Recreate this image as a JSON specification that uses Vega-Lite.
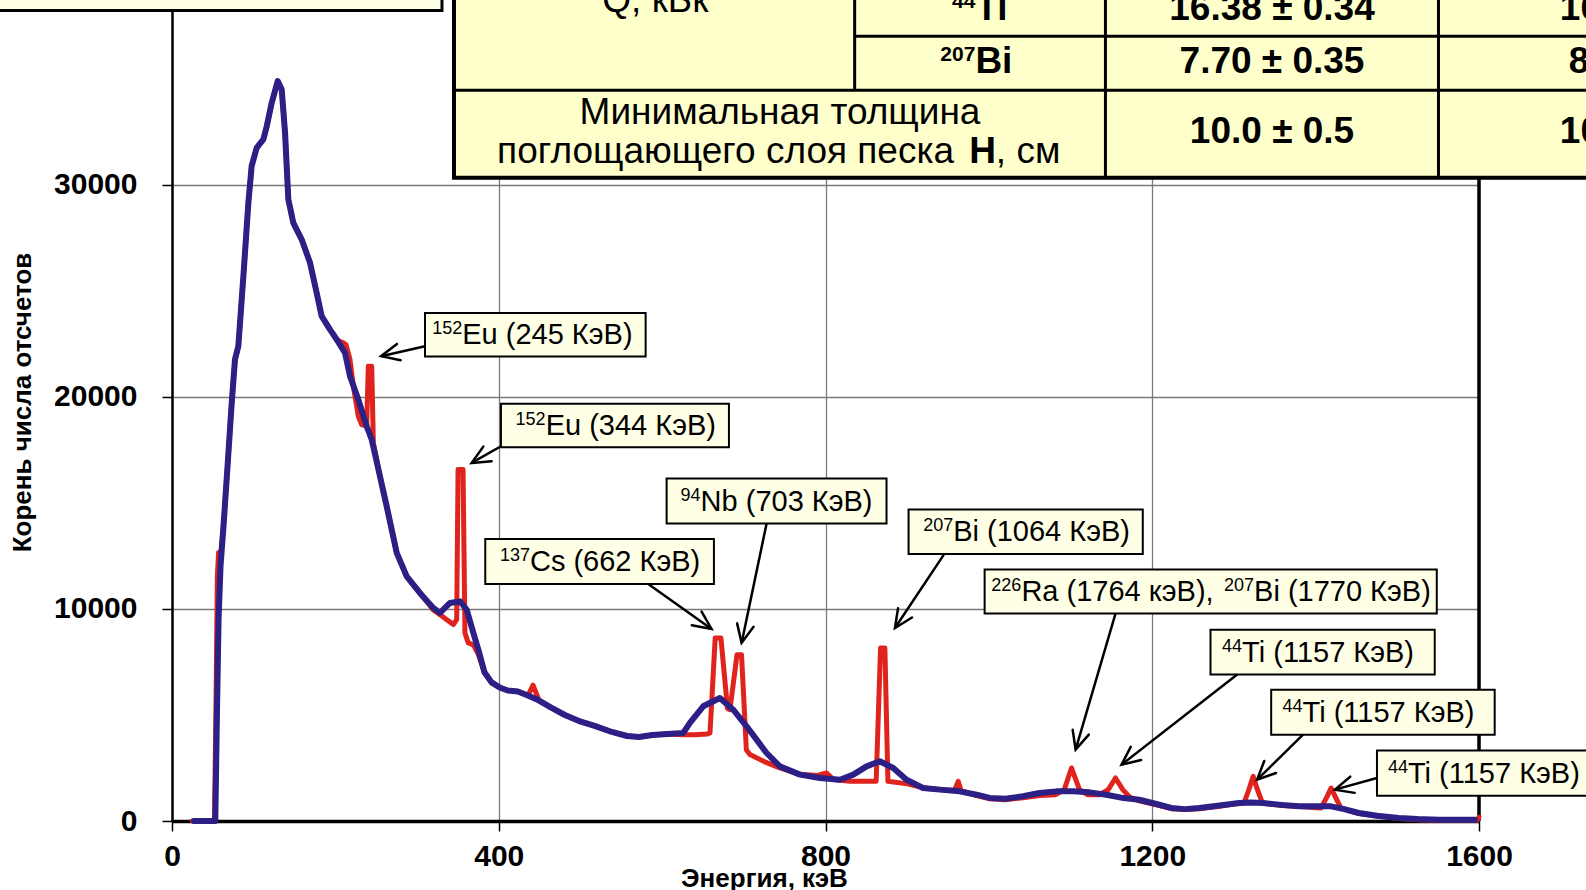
{
  "$schema": "https://vega.github.io/schema/vega-lite/v6.json",
  "width": 1307,
  "height": 821,
  "autosize": {"type": "none"},
  "padding": {"left": 172, "top": 0, "right": 107, "bottom": 69},
  "background": "white",
  "config": {
    "view": {"stroke": null},
    "font": "Liberation Sans",
    "axis": {"labelFont": "Liberation Sans", "titleFont": "Liberation Sans"}
  },
  "datasets": {
    "spectrum": [
      {"detector": "HPGe", "E": 25, "C": 0}, {"detector": "HPGe", "E": 52, "C": 0}, {"detector": "HPGe", "E": 54, "C": 6000},
      {"detector": "HPGe", "E": 55.5, "C": 11500}, {"detector": "HPGe", "E": 57, "C": 12650}, {"detector": "HPGe", "E": 60, "C": 12700},
      {"detector": "HPGe", "E": 63.1, "C": 13927}, {"detector": "HPGe", "E": 68.1, "C": 16788}, {"detector": "HPGe", "E": 73.0, "C": 19650},
      {"detector": "HPGe", "E": 77.1, "C": 21753}, {"detector": "HPGe", "E": 81.2, "C": 22378}, {"detector": "HPGe", "E": 87.4, "C": 25683},
      {"detector": "HPGe", "E": 93.5, "C": 29141}, {"detector": "HPGe", "E": 97.5, "C": 30868}, {"detector": "HPGe", "E": 103.7, "C": 31735},
      {"detector": "HPGe", "E": 111.8, "C": 32126}, {"detector": "HPGe", "E": 116.0, "C": 32752}, {"detector": "HPGe", "E": 122.1, "C": 33858},
      {"detector": "HPGe", "E": 129.4, "C": 34874}, {"detector": "HPGe", "E": 134.3, "C": 34482}, {"detector": "HPGe", "E": 138.4, "C": 32442},
      {"detector": "HPGe", "E": 142.4, "C": 29298}, {"detector": "HPGe", "E": 148.5, "C": 28197}, {"detector": "HPGe", "E": 158.8, "C": 27409},
      {"detector": "HPGe", "E": 169.0, "C": 26313}, {"detector": "HPGe", "E": 177.1, "C": 24896}, {"detector": "HPGe", "E": 183.2, "C": 23795},
      {"detector": "HPGe", "E": 193.5, "C": 23165}, {"detector": "HPGe", "E": 201.6, "C": 22698}, {"detector": "HPGe", "E": 206, "C": 22600},
      {"detector": "HPGe", "E": 209.7, "C": 22540}, {"detector": "HPGe", "E": 213, "C": 22450}, {"detector": "HPGe", "E": 217.9, "C": 21753},
      {"detector": "HPGe", "E": 222, "C": 20494}, {"detector": "HPGe", "E": 228.1, "C": 19078}, {"detector": "HPGe", "E": 232.2, "C": 18686},
      {"detector": "HPGe", "E": 238.3, "C": 18610}, {"detector": "HPGe", "E": 240.3, "C": 21438}, {"detector": "HPGe", "E": 244.5, "C": 21438},
      {"detector": "HPGe", "E": 246.5, "C": 17823}, {"detector": "HPGe", "E": 254.6, "C": 16249}, {"detector": "HPGe", "E": 262.8, "C": 14837},
      {"detector": "HPGe", "E": 275.1, "C": 12639}, {"detector": "HPGe", "E": 287.3, "C": 11532}, {"detector": "HPGe", "E": 303.5, "C": 10750},
      {"detector": "HPGe", "E": 319.9, "C": 9950}, {"detector": "HPGe", "E": 328.0, "C": 9730}, {"detector": "HPGe", "E": 336.0, "C": 9500},
      {"detector": "HPGe", "E": 344.4, "C": 9257}, {"detector": "HPGe", "E": 348.5, "C": 9491}, {"detector": "HPGe", "E": 350.2, "C": 16564},
      {"detector": "HPGe", "E": 356.3, "C": 16564}, {"detector": "HPGe", "E": 358.6, "C": 8866}, {"detector": "HPGe", "E": 362.7, "C": 8394},
      {"detector": "HPGe", "E": 368.9, "C": 8300}, {"detector": "HPGe", "E": 375.0, "C": 7850}, {"detector": "HPGe", "E": 382.5, "C": 7011},
      {"detector": "HPGe", "E": 391.2, "C": 6534}, {"detector": "HPGe", "E": 401.1, "C": 6296}, {"detector": "HPGe", "E": 411.0, "C": 6153},
      {"detector": "HPGe", "E": 423.4, "C": 6105}, {"detector": "HPGe", "E": 435.7, "C": 5914}, {"detector": "HPGe", "E": 442.0, "C": 6400},
      {"detector": "HPGe", "E": 449.4, "C": 5676}, {"detector": "HPGe", "E": 464.2, "C": 5342}, {"detector": "HPGe", "E": 480.3, "C": 5008},
      {"detector": "HPGe", "E": 497.6, "C": 4722}, {"detector": "HPGe", "E": 517.4, "C": 4483}, {"detector": "HPGe", "E": 538.5, "C": 4197},
      {"detector": "HPGe", "E": 557.1, "C": 4006}, {"detector": "HPGe", "E": 571.9, "C": 3959}, {"detector": "HPGe", "E": 588.0, "C": 4054},
      {"detector": "HPGe", "E": 606.6, "C": 4102}, {"detector": "HPGe", "E": 625.8, "C": 4068}, {"detector": "HPGe", "E": 640.0, "C": 4068},
      {"detector": "HPGe", "E": 655.0, "C": 4100}, {"detector": "HPGe", "E": 658.6, "C": 4149}, {"detector": "HPGe", "E": 665.0, "C": 8628},
      {"detector": "HPGe", "E": 672.0, "C": 8628}, {"detector": "HPGe", "E": 680.0, "C": 5300}, {"detector": "HPGe", "E": 683.0, "C": 5246},
      {"detector": "HPGe", "E": 691.7, "C": 7841}, {"detector": "HPGe", "E": 697.2, "C": 7841}, {"detector": "HPGe", "E": 703.1, "C": 3362},
      {"detector": "HPGe", "E": 707.5, "C": 3129}, {"detector": "HPGe", "E": 725.0, "C": 2800}, {"detector": "HPGe", "E": 744.1, "C": 2500},
      {"detector": "HPGe", "E": 768.7, "C": 2200}, {"detector": "HPGe", "E": 790.0, "C": 2150}, {"detector": "HPGe", "E": 801.3, "C": 2265},
      {"detector": "HPGe", "E": 810.0, "C": 1950}, {"detector": "HPGe", "E": 830.0, "C": 1870}, {"detector": "HPGe", "E": 862.0, "C": 1870},
      {"detector": "HPGe", "E": 867.4, "C": 8155}, {"detector": "HPGe", "E": 872.7, "C": 8155}, {"detector": "HPGe", "E": 876.4, "C": 1870},
      {"detector": "HPGe", "E": 900.0, "C": 1750}, {"detector": "HPGe", "E": 920.0, "C": 1560}, {"detector": "HPGe", "E": 950.0, "C": 1450},
      {"detector": "HPGe", "E": 958.0, "C": 1450}, {"detector": "HPGe", "E": 962.4, "C": 1870}, {"detector": "HPGe", "E": 966.0, "C": 1430},
      {"detector": "HPGe", "E": 985.0, "C": 1200}, {"detector": "HPGe", "E": 1001.0, "C": 1050}, {"detector": "HPGe", "E": 1020.0, "C": 1000},
      {"detector": "HPGe", "E": 1041.8, "C": 1100}, {"detector": "HPGe", "E": 1062.0, "C": 1200}, {"detector": "HPGe", "E": 1081.7, "C": 1240},
      {"detector": "HPGe", "E": 1092.3, "C": 1479}, {"detector": "HPGe", "E": 1101.2, "C": 2499}, {"detector": "HPGe", "E": 1110.9, "C": 1479},
      {"detector": "HPGe", "E": 1120.7, "C": 1240}, {"detector": "HPGe", "E": 1135.3, "C": 1240}, {"detector": "HPGe", "E": 1146.2, "C": 1479},
      {"detector": "HPGe", "E": 1155.0, "C": 2027}, {"detector": "HPGe", "E": 1163.9, "C": 1479}, {"detector": "HPGe", "E": 1172.2, "C": 1131},
      {"detector": "HPGe", "E": 1184.1, "C": 950}, {"detector": "HPGe", "E": 1205.0, "C": 760}, {"detector": "HPGe", "E": 1223.2, "C": 580},
      {"detector": "HPGe", "E": 1240.0, "C": 540}, {"detector": "HPGe", "E": 1257.4, "C": 580}, {"detector": "HPGe", "E": 1280.0, "C": 680},
      {"detector": "HPGe", "E": 1300.0, "C": 800}, {"detector": "HPGe", "E": 1312.3, "C": 849}, {"detector": "HPGe", "E": 1318.0, "C": 1450},
      {"detector": "HPGe", "E": 1323.6, "C": 2103}, {"detector": "HPGe", "E": 1329.0, "C": 1450}, {"detector": "HPGe", "E": 1334.8, "C": 849},
      {"detector": "HPGe", "E": 1358.0, "C": 730}, {"detector": "HPGe", "E": 1380.0, "C": 680}, {"detector": "HPGe", "E": 1406.5, "C": 610},
      {"detector": "HPGe", "E": 1414.0, "C": 1150}, {"detector": "HPGe", "E": 1418.9, "C": 1555}, {"detector": "HPGe", "E": 1424.0, "C": 1150},
      {"detector": "HPGe", "E": 1431.0, "C": 610}, {"detector": "HPGe", "E": 1452.9, "C": 350}, {"detector": "HPGe", "E": 1475.0, "C": 230},
      {"detector": "HPGe", "E": 1501.7, "C": 120}, {"detector": "HPGe", "E": 1525.0, "C": 60}, {"detector": "HPGe", "E": 1550.5, "C": 30},
      {"detector": "HPGe", "E": 1597.0, "C": 30}, {"detector": "HPGe", "E": 1600.0, "C": 180},

      {"detector": "NaI", "E": 27, "C": 0}, {"detector": "NaI", "E": 53, "C": 0}, {"detector": "NaI", "E": 55, "C": 5000},
      {"detector": "NaI", "E": 57, "C": 9500}, {"detector": "NaI", "E": 59.4, "C": 12019}, {"detector": "NaI", "E": 63.1, "C": 13927},
      {"detector": "NaI", "E": 68.1, "C": 16788}, {"detector": "NaI", "E": 73.0, "C": 19650}, {"detector": "NaI", "E": 77.1, "C": 21753},
      {"detector": "NaI", "E": 81.2, "C": 22378}, {"detector": "NaI", "E": 87.4, "C": 25683}, {"detector": "NaI", "E": 93.5, "C": 29141},
      {"detector": "NaI", "E": 97.5, "C": 30868}, {"detector": "NaI", "E": 103.7, "C": 31735}, {"detector": "NaI", "E": 111.8, "C": 32126},
      {"detector": "NaI", "E": 116.0, "C": 32752}, {"detector": "NaI", "E": 122.1, "C": 33858}, {"detector": "NaI", "E": 129.4, "C": 34874},
      {"detector": "NaI", "E": 134.3, "C": 34482}, {"detector": "NaI", "E": 138.4, "C": 32442}, {"detector": "NaI", "E": 142.4, "C": 29298},
      {"detector": "NaI", "E": 148.5, "C": 28197}, {"detector": "NaI", "E": 158.8, "C": 27409}, {"detector": "NaI", "E": 169.0, "C": 26313},
      {"detector": "NaI", "E": 177.1, "C": 24896}, {"detector": "NaI", "E": 183.2, "C": 23795}, {"detector": "NaI", "E": 193.5, "C": 23165},
      {"detector": "NaI", "E": 201.6, "C": 22698}, {"detector": "NaI", "E": 211.8, "C": 22068}, {"detector": "NaI", "E": 217.9, "C": 20966},
      {"detector": "NaI", "E": 228.1, "C": 19865}, {"detector": "NaI", "E": 238.3, "C": 18610}, {"detector": "NaI", "E": 244.5, "C": 17981},
      {"detector": "NaI", "E": 254.6, "C": 16249}, {"detector": "NaI", "E": 262.8, "C": 14837}, {"detector": "NaI", "E": 275.1, "C": 12639},
      {"detector": "NaI", "E": 287.3, "C": 11532}, {"detector": "NaI", "E": 303.5, "C": 10750}, {"detector": "NaI", "E": 319.9, "C": 10044},
      {"detector": "NaI", "E": 328.0, "C": 9811}, {"detector": "NaI", "E": 340.3, "C": 10278}, {"detector": "NaI", "E": 352.5, "C": 10354},
      {"detector": "NaI", "E": 360.7, "C": 9968}, {"detector": "NaI", "E": 368.9, "C": 8871}, {"detector": "NaI", "E": 375.0, "C": 8079},
      {"detector": "NaI", "E": 382.5, "C": 7011}, {"detector": "NaI", "E": 391.2, "C": 6534}, {"detector": "NaI", "E": 401.1, "C": 6296},
      {"detector": "NaI", "E": 411.0, "C": 6153}, {"detector": "NaI", "E": 423.4, "C": 6105}, {"detector": "NaI", "E": 435.7, "C": 5914},
      {"detector": "NaI", "E": 449.4, "C": 5676}, {"detector": "NaI", "E": 464.2, "C": 5342}, {"detector": "NaI", "E": 480.3, "C": 5008},
      {"detector": "NaI", "E": 497.6, "C": 4722}, {"detector": "NaI", "E": 517.4, "C": 4483}, {"detector": "NaI", "E": 538.5, "C": 4197},
      {"detector": "NaI", "E": 557.1, "C": 4006}, {"detector": "NaI", "E": 571.9, "C": 3959}, {"detector": "NaI", "E": 588.0, "C": 4054},
      {"detector": "NaI", "E": 606.6, "C": 4102}, {"detector": "NaI", "E": 625.8, "C": 4149}, {"detector": "NaI", "E": 634.0, "C": 4622},
      {"detector": "NaI", "E": 650.3, "C": 5408}, {"detector": "NaI", "E": 670.7, "C": 5800}, {"detector": "NaI", "E": 687.0, "C": 5246},
      {"detector": "NaI", "E": 703.4, "C": 4464}, {"detector": "NaI", "E": 715.6, "C": 3835}, {"detector": "NaI", "E": 727.9, "C": 3205},
      {"detector": "NaI", "E": 744.1, "C": 2575}, {"detector": "NaI", "E": 768.7, "C": 2185}, {"detector": "NaI", "E": 793.1, "C": 2027},
      {"detector": "NaI", "E": 817.6, "C": 1946}, {"detector": "NaI", "E": 834.0, "C": 2185}, {"detector": "NaI", "E": 850.3, "C": 2575},
      {"detector": "NaI", "E": 866.5, "C": 2814}, {"detector": "NaI", "E": 882.9, "C": 2499}, {"detector": "NaI", "E": 899.2, "C": 1946},
      {"detector": "NaI", "E": 919.5, "C": 1555}, {"detector": "NaI", "E": 939.8, "C": 1479}, {"detector": "NaI", "E": 964.3, "C": 1397},
      {"detector": "NaI", "E": 985.0, "C": 1240}, {"detector": "NaI", "E": 1001.0, "C": 1087}, {"detector": "NaI", "E": 1020.0, "C": 1050},
      {"detector": "NaI", "E": 1041.8, "C": 1164}, {"detector": "NaI", "E": 1062.0, "C": 1321}, {"detector": "NaI", "E": 1082.7, "C": 1397},
      {"detector": "NaI", "E": 1103.1, "C": 1397}, {"detector": "NaI", "E": 1123.0, "C": 1350}, {"detector": "NaI", "E": 1143.9, "C": 1240},
      {"detector": "NaI", "E": 1165.0, "C": 1080}, {"detector": "NaI", "E": 1184.1, "C": 1002}, {"detector": "NaI", "E": 1205.0, "C": 800},
      {"detector": "NaI", "E": 1223.2, "C": 615}, {"detector": "NaI", "E": 1240.0, "C": 560}, {"detector": "NaI", "E": 1257.4, "C": 615},
      {"detector": "NaI", "E": 1280.0, "C": 720}, {"detector": "NaI", "E": 1306.3, "C": 849}, {"detector": "NaI", "E": 1320.0, "C": 870},
      {"detector": "NaI", "E": 1335.6, "C": 849}, {"detector": "NaI", "E": 1358.0, "C": 760}, {"detector": "NaI", "E": 1379.6, "C": 692},
      {"detector": "NaI", "E": 1400.0, "C": 700}, {"detector": "NaI", "E": 1418.7, "C": 692}, {"detector": "NaI", "E": 1435.0, "C": 560},
      {"detector": "NaI", "E": 1452.9, "C": 377}, {"detector": "NaI", "E": 1475.0, "C": 250}, {"detector": "NaI", "E": 1501.7, "C": 143},
      {"detector": "NaI", "E": 1525.0, "C": 90}, {"detector": "NaI", "E": 1550.5, "C": 62}, {"detector": "NaI", "E": 1594.8, "C": 62}
    ],
    "plotEdge": [{"E": 1600, "C": 0, "C2": 38700}],
    "calloutBoxes": [
      {"E": 309.7, "E2": 579.8, "C": 21892, "C2": 23942},
      {"E": 402.7, "E2": 681.8, "C": 17623, "C2": 19674},
      {"E": 605.5, "E2": 874.7, "C": 14022, "C2": 16140},
      {"E": 383.5, "E2": 663.4, "C": 11175, "C2": 13297},
      {"E": 901.7, "E2": 1188.4, "C": 12591, "C2": 14680},
      {"E": 994.8, "E2": 1548.3, "C": 9777, "C2": 11852},
      {"E": 1271.3, "E2": 1545.8, "C": 6901, "C2": 9014},
      {"E": 1345.6, "E2": 1619.2, "C": 4068, "C2": 6191},
      {"E": 1475.1, "E2": 1735.0, "C": 1192, "C2": 3329}
    ],
    "pointers": [
      {"E": 255.9, "C": 21911, "E2": 309.7, "C2": 22383},
      {"E": 366.8, "C": 16879, "E2": 402.7, "C2": 17666},
      {"E": 697.3, "C": 8394, "E2": 727.9, "C2": 14022},
      {"E": 660.5, "C": 9052, "E2": 583.0, "C2": 11175},
      {"E": 885.0, "C": 9100, "E2": 944.9, "C2": 12558},
      {"E": 1106.2, "C": 3362, "E2": 1155.0, "C2": 9777},
      {"E": 1162.4, "C": 2657, "E2": 1304.0, "C2": 6901},
      {"E": 1328.4, "C": 1946, "E2": 1384.6, "C2": 4068},
      {"E": 1423.6, "C": 1479, "E2": 1475.0, "C2": 2027}
    ],
    "calloutText": [
      {"E": 355.3, "C": 22469, "sup": "152", "t": "Eu (245 КэВ)"},
      {"E": 457.4, "C": 18200, "sup": "152", "t": "Eu (344 КэВ)"},
      {"E": 647.1, "C": 14633, "sup": "94", "t": "Nb (703 КэВ)"},
      {"E": 438.2, "C": 11785, "sup": "137", "t": "Cs (662 КэВ)"},
      {"E": 956.3, "C": 13188, "sup": "207", "t": "Bi (1064 КэВ)"},
      {"E": 1039.8, "C": 10364, "sup": "226", "t": "Ra (1764 кэВ),"},
      {"E": 1324.6, "C": 10364, "sup": "207", "t": "Bi (1770 КэВ)"},
      {"E": 1310.0, "C": 7507, "sup": "44", "t": "Ti (1157 КэВ)"},
      {"E": 1384.0, "C": 4679, "sup": "44", "t": "Ti (1157 КэВ)"},
      {"E": 1513.0, "C": 1812, "sup": "44", "t": "Ti (1157 КэВ)"}
    ],
    "tableBody": [{"E": 345.2, "E2": 2300, "C": 30320, "C2": 45000}],
    "tableRules": [
      {"E": 835.7, "E2": 2300, "C": 36997, "C2": 36997},
      {"E": 345.2, "E2": 2300, "C": 34451, "C2": 34451},
      {"E": 835.7, "E2": 835.7, "C": 34451, "C2": 45000},
      {"E": 1142.7, "E2": 1142.7, "C": 30320, "C2": 45000},
      {"E": 1550.4, "E2": 1550.4, "C": 30320, "C2": 45000}
    ],
    "tableRegularCentered": [
      {"E": 591.7, "C": 38129, "t": "Q, кБк"},
      {"E": 744.3, "C": 32834, "t": "Минимальная толщина"}
    ],
    "tableRegularLeft": [
      {"E": 398.0, "C": 31028, "t": "поглощающего слоя песка"},
      {"E": 1008.5, "C": 31028, "t": ", см"}
    ],
    "tableBoldLeft": [
      {"E": 976.0, "C": 31028, "t": "H"},
      {"E": 983.5, "C": 37752, "t": "Ti"},
      {"E": 983.5, "C": 35262, "t": "Bi"},
      {"E": 1699.0, "C": 37752, "t": "16.05 ± 0.33"},
      {"E": 1710.0, "C": 35262, "t": "8.12 ± 0.36"},
      {"E": 1699.0, "C": 31938, "t": "10.5 ± 0.5"}
    ],
    "tableBoldCentered": [
      {"E": 1346.6, "C": 37752, "t": "16.38 ± 0.34"},
      {"E": 1346.6, "C": 35262, "t": "7.70 ± 0.35"},
      {"E": 1346.6, "C": 31938, "t": "10.0 ± 0.5"}
    ],
    "tableSup": [
      {"E": 983.5, "C": 37752, "t": "44"},
      {"E": 983.5, "C": 35262, "t": "207"}
    ],
    "headerBox": [{"E": -400, "E2": 330.5, "C": 38209, "C2": 45000}]
  },
  "encoding": {
    "x": {
      "field": "E",
      "type": "quantitative",
      "scale": {"domain": [0, 1600], "nice": false, "zero": false},
      "axis": {
        "title": "Энергия, кэВ",
        "values": [0, 400, 800, 1200, 1600],
        "format": "d",
        "labelFontSize": 30,
        "labelFontWeight": "bold",
        "labelColor": "black",
        "labelPadding": 10,
        "labelFlush": false,
        "labelOverlap": false,
        "labelBound": false,
        "tickSize": 10,
        "tickWidth": 1.5,
        "tickColor": "black",
        "domainColor": "black",
        "domainWidth": 3.5,
        "grid": true,
        "gridColor": "#7a7a7a",
        "gridWidth": 1.3,
        "titleFontSize": 26,
        "titleFontWeight": "bold",
        "titleColor": "black",
        "titleX": 592,
        "titleY": 65,
        "titleAlign": "center",
        "titleBaseline": "alphabetic"
      }
    },
    "y": {
      "field": "C",
      "type": "quantitative",
      "scale": {"domain": [0, 38700], "nice": false, "zero": false},
      "axis": {
        "title": "Корень числа отсчетов",
        "values": [0, 10000, 20000, 30000],
        "format": "d",
        "labelFontSize": 30,
        "labelFontWeight": "bold",
        "labelColor": "black",
        "labelPadding": 25,
        "labelOverlap": false,
        "labelBound": false,
        "tickSize": 10,
        "tickWidth": 1.5,
        "tickColor": "black",
        "domainColor": "black",
        "domainWidth": 2.5,
        "grid": true,
        "gridColor": "#7a7a7a",
        "gridWidth": 1.3,
        "titleFontSize": 26,
        "titleFontWeight": "bold",
        "titleColor": "black",
        "titleAngle": 270,
        "titleX": -142,
        "titleY": 402,
        "titleAlign": "center",
        "titleBaseline": "alphabetic"
      }
    }
  },
  "layer": [
    {
      "data": {"name": "plotEdge"},
      "mark": {"type": "rule", "color": "black", "strokeWidth": 3.5},
      "encoding": {"y2": {"field": "C2"}}
    },
    {
      "data": {"name": "spectrum"},
      "transform": [{"filter": "datum.detector === 'HPGe'"}],
      "mark": {"type": "line", "color": "#e0231c", "strokeWidth": 5, "strokeJoin": "round", "strokeCap": "round"},
      "encoding": {}
    },
    {
      "data": {"name": "spectrum"},
      "transform": [{"filter": "datum.detector === 'NaI'"}],
      "mark": {"type": "line", "color": "#2c1f85", "strokeWidth": 6, "strokeJoin": "round", "strokeCap": "round"},
      "encoding": {}
    },
    {
      "data": {"name": "calloutBoxes"},
      "mark": {"type": "rect", "fill": "#ffffe6", "stroke": "black", "strokeWidth": 2},
      "encoding": {"x2": {"field": "E2"}, "y2": {"field": "C2"}}
    },
    {
      "data": {"name": "pointers"},
      "mark": {"type": "rule", "color": "black", "strokeWidth": 2.5},
      "encoding": {"x2": {"field": "E2"}, "y2": {"field": "C2"}}
    },
    {
      "data": {"name": "pointers"},
      "transform": [
        {"calculate": "atan2((datum.E - datum.E2) * 0.8169, (datum.C - datum.C2) * 0.021214) * 180 / PI", "as": "heading"}
      ],
      "mark": {
        "type": "point",
        "shape": "M -0.42 0.91 L 0 0 L 0.42 0.91",
        "filled": false,
        "stroke": "black",
        "strokeWidth": 2.5,
        "opacity": 1,
        "size": 1600,
        "strokeCap": "round",
        "strokeJoin": "miter"
      },
      "encoding": {"angle": {"field": "heading", "type": "quantitative", "scale": null}}
    },
    {
      "data": {"name": "calloutText"},
      "mark": {"type": "text", "font": "Liberation Sans", "fontSize": 18, "align": "right", "baseline": "alphabetic", "dy": -10, "color": "black"},
      "encoding": {"text": {"field": "sup"}}
    },
    {
      "data": {"name": "calloutText"},
      "mark": {"type": "text", "font": "Liberation Sans", "fontSize": 29, "align": "left", "baseline": "alphabetic", "color": "black"},
      "encoding": {"text": {"field": "t"}}
    },
    {
      "data": {"name": "tableBody"},
      "mark": {"type": "rect", "fill": "#ffffcc", "stroke": "black", "strokeWidth": 4},
      "encoding": {"x2": {"field": "E2"}, "y2": {"field": "C2"}}
    },
    {
      "data": {"name": "tableRules"},
      "mark": {"type": "rule", "color": "black", "strokeWidth": 3},
      "encoding": {"x2": {"field": "E2"}, "y2": {"field": "C2"}}
    },
    {
      "data": {"name": "tableRegularCentered"},
      "mark": {"type": "text", "font": "Liberation Sans", "fontSize": 37, "align": "center", "baseline": "alphabetic", "color": "black"},
      "encoding": {"text": {"field": "t"}}
    },
    {
      "data": {"name": "tableRegularLeft"},
      "mark": {"type": "text", "font": "Liberation Sans", "fontSize": 37, "align": "left", "baseline": "alphabetic", "color": "black"},
      "encoding": {"text": {"field": "t"}}
    },
    {
      "data": {"name": "tableBoldLeft"},
      "mark": {"type": "text", "font": "Liberation Sans", "fontSize": 37, "fontWeight": "bold", "align": "left", "baseline": "alphabetic", "color": "black"},
      "encoding": {"text": {"field": "t"}}
    },
    {
      "data": {"name": "tableBoldCentered"},
      "mark": {"type": "text", "font": "Liberation Sans", "fontSize": 37, "fontWeight": "bold", "align": "center", "baseline": "alphabetic", "color": "black"},
      "encoding": {"text": {"field": "t"}}
    },
    {
      "data": {"name": "tableSup"},
      "mark": {"type": "text", "font": "Liberation Sans", "fontSize": 21, "fontWeight": "bold", "align": "right", "baseline": "alphabetic", "dy": -12, "color": "black"},
      "encoding": {"text": {"field": "t"}}
    },
    {
      "data": {"name": "headerBox"},
      "mark": {"type": "rect", "fill": "#ffffe6", "stroke": "black", "strokeWidth": 3},
      "encoding": {"x2": {"field": "E2"}, "y2": {"field": "C2"}}
    }
  ]
}
